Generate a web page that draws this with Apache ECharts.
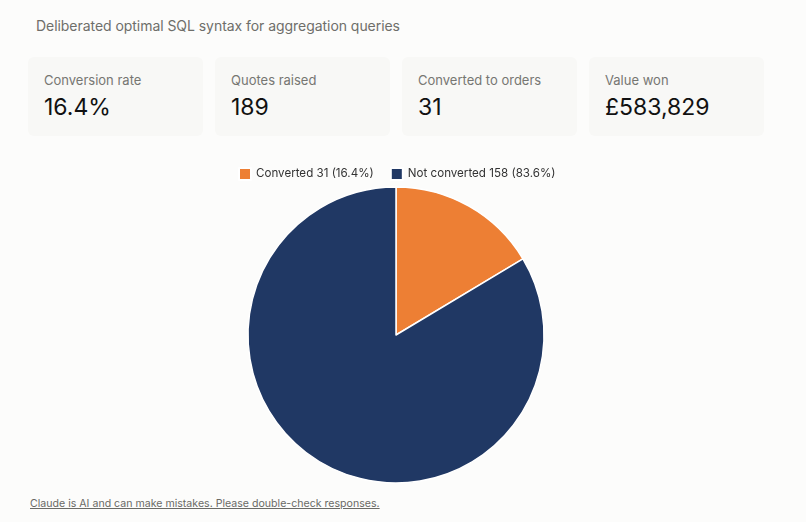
<!DOCTYPE html>
<html>
<head>
<meta charset="utf-8">
<script src="https://cdn.jsdelivr.net/npm/echarts@6/dist/echarts.min.js"></script>
<style>
  html, body { margin: 0; padding: 0; background: #fcfcfb; font-family: Inter, Lato, "Noto Sans", sans-serif; }
  #page { position: relative; width: 806px; height: 522px; overflow: hidden; }
  .title { position: absolute; left: 36px; top: 17px; font-size: 14px; color: #6e6e6a; letter-spacing: -0.05px; }
  .card { position: absolute; top: 57px; width: 175px; height: 79px; background: #f8f8f6; border-radius: 6px; }
  .card .lbl { position: absolute; left: 16px; top: 15px; font-size: 13px; color: #767672; }
  .card .val { position: absolute; left: 16px; top: 36px; font-size: 23px; color: #111; }
  #chart { position: absolute; left: 0; top: 145px; width: 806px; height: 345px; }
  .foot { position: absolute; left: 30px; top: 497px; font-size: 10.6px; color: #6a6a66; text-decoration: underline; }
</style>
</head>
<body>
<div id="page">
  <div class="title">Deliberated optimal SQL syntax for aggregation queries</div>
  <div id="cards"></div>
  <div id="chart"></div>
  <div class="foot">Claude is AI and can make mistakes. Please double-check responses.</div>
</div>
<script>
  // metric cards
  var cardLabels = ['Conversion rate', 'Quotes raised', 'Converted to orders', 'Value won'];
  var cardValues = ['16.4%', '189', '31', '£583,829'];

  // pie data
  var sliceNames = ['Converted', 'Not converted'];
  var sliceValues = [31, 158];
  var sliceColors = ['#ed7f34', '#203864'];

  var cards = document.getElementById('cards');
  cardLabels.forEach(function (l, i) {
    var c = document.createElement('div');
    c.className = 'card';
    c.style.left = (28 + i * 187) + 'px';
    c.innerHTML = '<div class="lbl">' + l + '</div><div class="val">' + cardValues[i] + '</div>';
    cards.appendChild(c);
  });

  var total = sliceValues.reduce(function (a, b) { return a + b; }, 0);
  var myChart = echarts.init(document.getElementById('chart'));
  var option = {
    color: sliceColors,
    legend: {
      top: 17,
      left: 233,
      itemWidth: 12,
      itemHeight: 12,
      itemGap: 16,
      icon: 'rect',
      textStyle: { color: '#333', fontSize: 11.6, fontFamily: 'Inter, Lato, sans-serif' },
      formatter: function (name) {
        var v = sliceValues[sliceNames.indexOf(name)];
        return name + ' ' + v + ' (' + (v / total * 100).toFixed(1) + '%)';
      }
    },
    series: [{
      type: 'pie',
      center: [396, 190],
      radius: 148,
      startAngle: 90,
      label: { show: false },
      labelLine: { show: false },
      itemStyle: { borderColor: '#ffffff', borderWidth: 1.5 },
      data: sliceNames.map(function (n, i) {
        return { name: n, value: sliceValues[i] };
      })
    }]
  };
  myChart.setOption(option, true);
</script>
</body>
</html>
